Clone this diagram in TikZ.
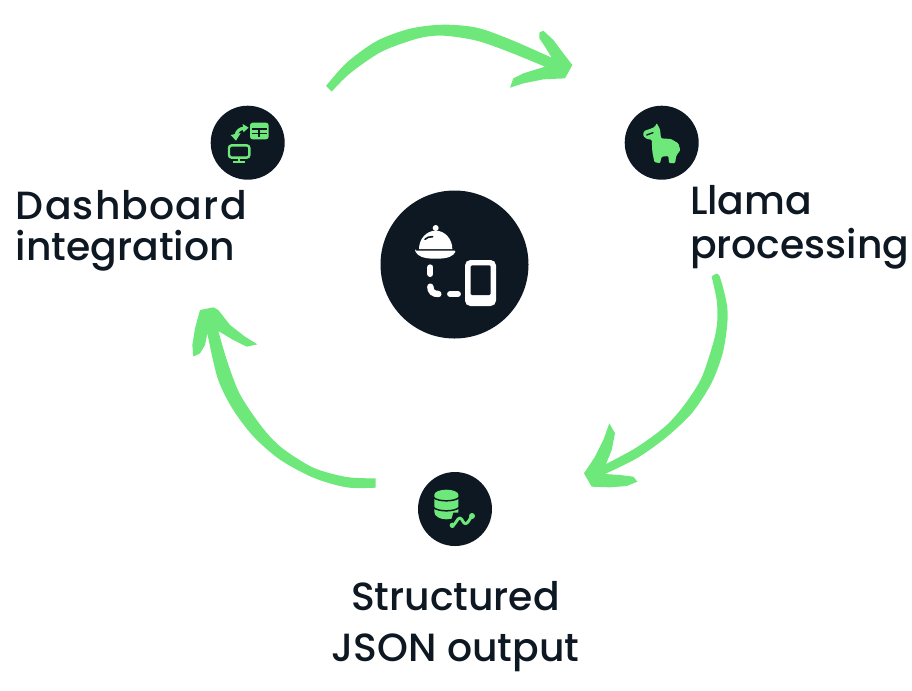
\documentclass[tikz,border=0pt]{standalone}
\usepackage{fontspec}
\setmainfont{Poppins}[UprightFont=* Medium,BoldFont=* SemiBold]
\definecolor{ink}{HTML}{0E1823}
\definecolor{leaf}{HTML}{6EE87A}
\tikzset{
  disc/.style={circle,fill=ink,draw=none,inner sep=0pt,minimum size=#1},
  lab/.style={text=ink,font=\fontsize{29.5pt}{34pt}\selectfont,inner sep=0pt,outer sep=0pt},
  zoomed/.style={x=0.25pt,y=-0.25pt},
  brush/.style={fill=leaf,draw=none}
}
\begin{document}
\begin{tikzpicture}[x=0.75pt,y=-0.75pt]
\useasboundingbox (0,0) rectangle (912,690);
% arrows
\begin{scope}[shift={(310,10)},zoomed]
\fill[brush] plot[smooth] coordinates {(48,228)(110,158)(200,93)(300,56)(400,44)(500,53)(600,88)(725,143)} -- (705,110) -- (688,85) -- (688,68) -- (700,62) -- (730,90) -- (760,130) -- (787,165) -- (765,205) -- (700,208) -- (640,220) -- (600,233) -- (610,205) -- (640,190) -- (705,170) -- plot[smooth] coordinates {(705,170)(600,127)(500,92)(400,77)(325,85)(215,125)(120,190)(65,245)} -- cycle;
\end{scope}
\begin{scope}[shift={(570,260)},zoomed]
\fill[brush] plot[smooth] coordinates {(425,50)(447,45)(470,130)(472,190)(458,280)(424,370)(365,460)(285,535)(200,595)(105,642)} -- (150,645) -- (190,650) -- (202,665) -- (170,678) -- (120,682) -- (65,680) -- (42,640) -- (75,590) -- (100,540) -- (118,490) -- (135,520) -- (125,570) -- (108,612) -- plot[smooth] coordinates {(108,612)(200,562)(288,497)(348,428)(396,350)(432,240)(442,180)(440,120)(425,50)} -- cycle;
\end{scope}
\begin{scope}[shift={(180,295)},zoomed]
\fill[brush] plot[smooth] coordinates {(587,578)(500,577)(400,548)(300,494)(220,424)(158,342)(113,250)(82,115)} -- (75,150) -- (60,175) -- (40,185) -- (37,150) -- (45,100) -- (60,45) -- (100,37) -- (115,45) -- (150,90) -- (195,125) -- (232,148) -- (200,155) -- (160,135) -- (115,108) -- plot[smooth] coordinates {(115,108)(142,200)(180,298)(245,395)(305,458)(400,518)(500,546)(587,550)} -- cycle;
\end{scope}
% discs
\node[disc=111pt] (hub) at (454.5,264.5) {};
\node[disc=55.5pt] (dash) at (247.7,142.7) {};
\node[disc=55.5pt] (llama) at (661.7,142.7) {};
\node[disc=55.5pt] (json) at (455,509) {};
% hub icon
\begin{scope}[shift={(370,180)},zoomed]
\fill[white] (147,207) arc[start angle=180,end angle=360,x radius=50,y radius=55] -- cycle;
\fill[white] (197,144) circle[radius=9];
\fill[white,rounded corners=1pt] (135,212) -- (258,212) .. controls (250,228) and (235,236) .. (197,236) .. controls (160,236) and (143,228) .. (135,212) -- cycle;
\draw[ink,line width=1.2pt,line cap=round] (165,178) .. controls (170,172) and (178,170) .. (188,170);
\draw[white,line width=4.5pt,line cap=round] (181,262) -- (181,282);
\draw[white,line width=4.8pt,line cap=round] (181,320) .. controls (181,335) and (190,342) .. (205,342);
\draw[white,line width=4.4pt,line cap=round] (240,342) -- (264,342);
\fill[white,rounded corners=4pt] (285,240) rectangle (378,378);
\fill[ink,rounded corners=1pt] (302,256) rectangle (362,345);
\end{scope}
% dashboard icon
\begin{scope}[shift={(200,95)},zoomed]
\fill[leaf,rounded corners=2pt] (150,83) rectangle (206,133);
\draw[ink,line width=1pt] (156,102) -- (200,102) (156,116) -- (200,116) (177,102) -- (177,127);
\draw[leaf,line width=1.8pt,rounded corners=2pt] (87,151) rectangle (148,188);
\draw[leaf,line width=1.8pt] (117,188) -- (117,201) (100,201) -- (135,201);
\draw[leaf,line width=2.4pt] (108,122) .. controls (110,108) and (120,100) .. (132,100);
\fill[leaf] (128,87) -- (146,98) -- (130,112) -- cycle;
\fill[leaf] (92,120) -- (122,114) -- (108,137) -- cycle;
\end{scope}
% llama icon
\begin{scope}[shift={(615,95)},zoomed]
\fill[leaf,rounded corners=0.8pt] (125,84) -- (135,103) -- (138,130) -- (168,132) -- (190,145) -- (196,165) -- (184,182) -- (180,205) -- (162,204) -- (160,183) -- (140,185) -- (135,205) -- (118,201) -- (112,170) -- (110,134) -- (95,132) -- (84,122) -- (87,108) -- (110,100) -- (120,95) -- cycle;
\draw[ink,line width=1pt,line cap=round] (95,120) -- (114,113);
\end{scope}
% database icon
\begin{scope}[shift={(408,462)},zoomed]
\fill[leaf] (79,98) arc[start angle=180,end angle=360,x radius=36,y radius=15] -- (151,150) arc[start angle=0,end angle=180,x radius=36,y radius=22] -- cycle;
\draw[ink,line width=1.1pt] (76,106) .. controls (90,120) and (140,120) .. (154,106);
\draw[ink,line width=1.1pt] (76,136) .. controls (90,150) and (140,150) .. (154,136);
\fill[ink] (120,210) -- (136,152) -- (210,152) -- (210,210) -- cycle;
\draw[leaf,line width=2.2pt,line join=round] (133,190) .. controls (142,190) and (148,168) .. (155,168) .. controls (163,168) and (165,185) .. (172,185) .. controls (180,185) and (185,170) .. (192,162);
\fill[leaf] (133,190) circle[radius=8] (192,162) circle[radius=9];
\end{scope}
% labels
\node[lab,anchor=base west] (tdash) at (16,219.5) {\addfontfeature{LetterSpace=3}Dashboard};
\node[lab,anchor=base west] (tdash2) at (16,260.5) {integration};
\node[lab,anchor=base west] (tllama) at (690,214.5) {Llama};
\node[lab,anchor=base west] (tllama2) at (690,258.5) {processing};
\node[lab,anchor=base] (tjson) at (455.5,610) {Structured};
\node[lab,anchor=base] (tjson2) at (455.5,661) {JSON output};
\end{tikzpicture}
\end{document}
